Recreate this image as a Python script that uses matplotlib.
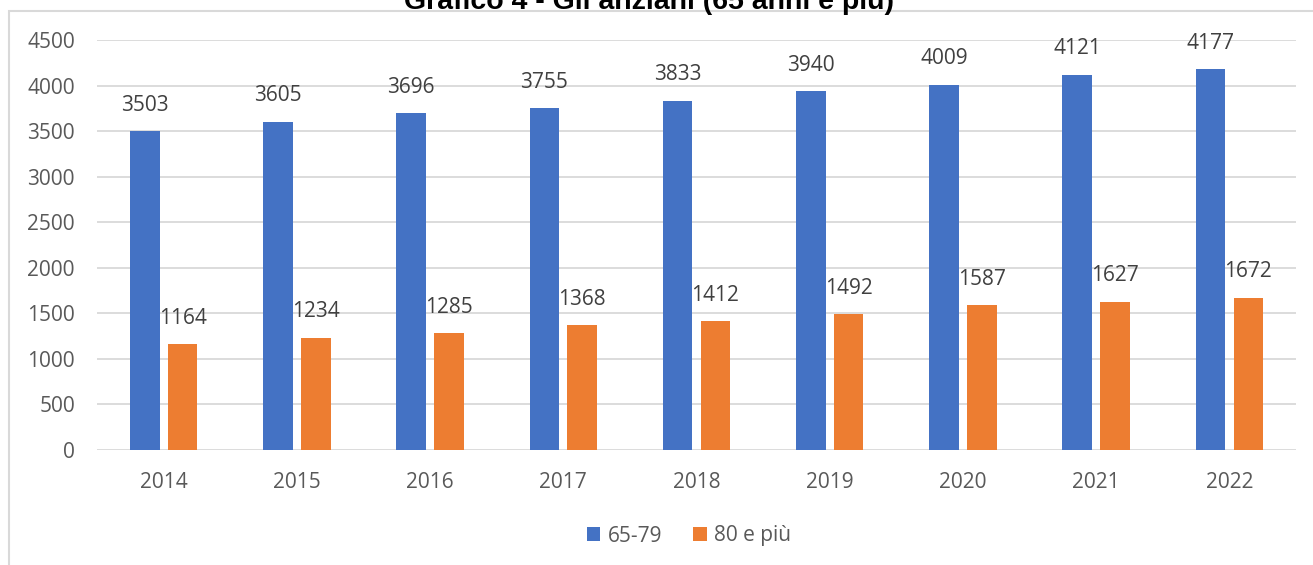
import matplotlib.pyplot as plt
import numpy as np
from matplotlib.patches import Rectangle

years = ["2014", "2015", "2016", "2017", "2018", "2019", "2020", "2021", "2022"]
age_65_79 = [3503, 3605, 3696, 3755, 3833, 3940, 4009, 4121, 4177]
age_80_plus = [1164, 1234, 1285, 1368, 1412, 1492, 1587, 1627, 1672]
series_names = ["65-79", "80 e più"]
title = "Grafico 4 - Gli anziani (65 anni e più)"

plt.rcParams["font.family"] = ["Open Sans", "DejaVu Sans"]

fig = plt.figure(figsize=(13.13, 5.65), dpi=100)
ax = fig.add_axes([97.1 / 1313, 115 / 565, (1296 - 97.1) / 1313, 410 / 565])

# chart frame (light border, top and left visible)
fig.patches.append(Rectangle((9 / 1313, -0.1), 1.2, (565 - 11) / 565 + 0.1,
                             transform=fig.transFigure, fill=False,
                             edgecolor="#d9d9d9", linewidth=1.5))

fig.text(0.494, 1 - 9 / 565, title, ha="center", va="baseline",
         fontsize=20.5, fontweight="bold", family=["Liberation Sans"], color="#000000")

x = np.arange(len(years))
w = 0.222
off = 0.142
b1 = ax.bar(x - off, age_65_79, w, color="#4472C4", label=series_names[0], zorder=3)
b2 = ax.bar(x + off, age_80_plus, w, color="#ED7D31", label=series_names[1], zorder=3)

for bars in (b1, b2):
    for r in bars:
        ax.annotate(f"{int(r.get_height())}", (r.get_x() + r.get_width() / 2, r.get_height()),
                    xytext=(0, 11), textcoords="offset points", ha="center", va="bottom",
                    fontsize=15, color="#404040")

ax.set_xlim(-0.5, len(years) - 0.5)
ax.set_ylim(0, 4500)
ax.set_yticks(range(0, 4501, 500))
ax.set_xticks(x)
ax.set_xticklabels(years)
ax.tick_params(length=0, labelsize=15, labelcolor="#595959")
ax.tick_params(axis="y", pad=16)
ax.tick_params(axis="x", pad=16)
ax.grid(axis="y", color="#d9d9d9", linewidth=1.3, zorder=0)
for s in ax.spines.values():
    s.set_visible(False)

ax.legend(loc="center", bbox_to_anchor=(689 / 1313, 1 - 536 / 565),
          bbox_transform=fig.transFigure, ncol=2, frameon=False,
          fontsize=15, labelcolor="#595959", handlelength=0.65, handleheight=0.65,
          handletextpad=0.35, columnspacing=1.5)

fig.savefig("out.png", dpi=100)
